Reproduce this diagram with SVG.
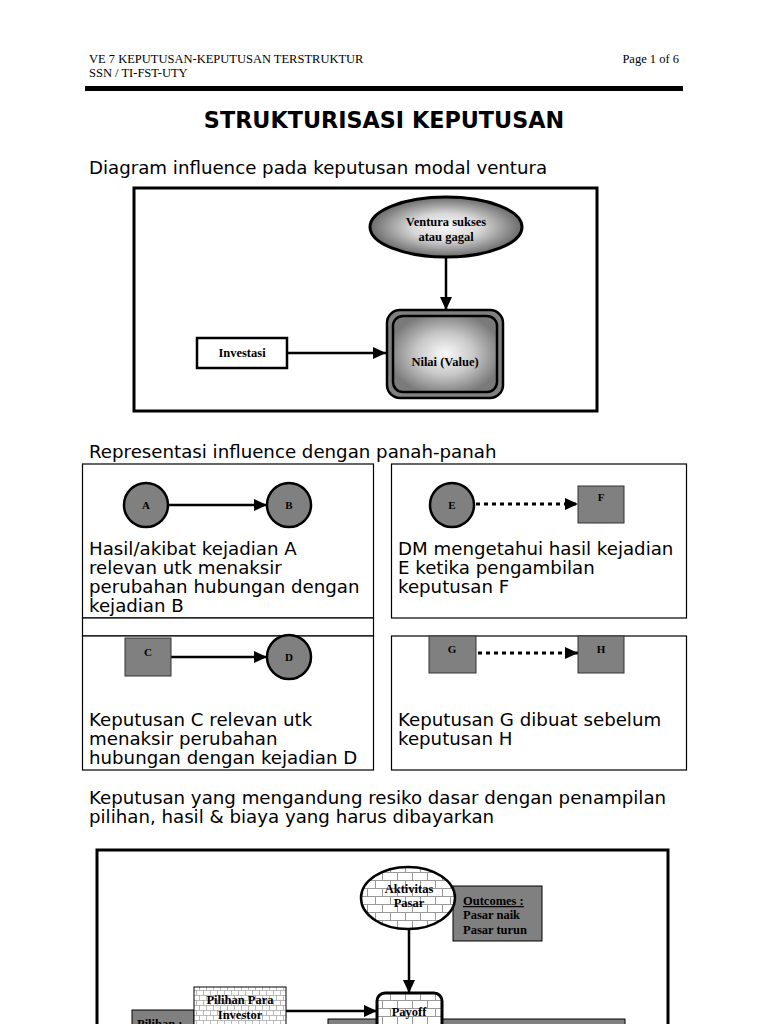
<svg xmlns="http://www.w3.org/2000/svg" width="768" height="1024" viewBox="0 0 768 1024">
<style>
.hdr{font-family:"Liberation Serif",serif;font-size:12.5px;fill:#000}
.title{font-family:"DejaVu Sans",sans-serif;font-weight:bold;font-size:22.3px;fill:#000}
.body{font-family:"DejaVu Sans",sans-serif;font-size:18.2px;fill:#000}
.lbl{font-family:"Liberation Serif",serif;font-weight:bold;font-size:12.5px;fill:#000}
.ltr{font-family:"Liberation Serif",serif;font-weight:bold;font-size:11px;fill:#000}
.panel{fill:#fff;stroke:#000;stroke-width:1.2}
.frame{fill:#fff;stroke:#000;stroke-width:3}
.circ{fill:#808080;stroke:#000;stroke-width:2.5}
.sq{fill:#808080;stroke:#333;stroke-width:1}
.solid{stroke:#000;stroke-width:2.5;fill:none}
.dot{stroke:#000;stroke-width:3;fill:none;stroke-dasharray:4 4}
</style>
<defs>
<marker id="ah" markerUnits="userSpaceOnUse" markerWidth="14" markerHeight="12" refX="13" refY="6" orient="auto">
<path d="M0,0 L13,6 L0,12 z" fill="#000"/>
</marker>
<radialGradient id="gEll" cx="50%" cy="50%" r="50%">
<stop offset="0" stop-color="#f8f8f8"/>
<stop offset="0.45" stop-color="#d8d8d8"/>
<stop offset="1" stop-color="#6a6a6a"/>
</radialGradient>
<radialGradient id="gBox" cx="50%" cy="50%" r="55%">
<stop offset="0" stop-color="#fafafa"/>
<stop offset="0.5" stop-color="#c8c8c8"/>
<stop offset="1" stop-color="#7a7a7a"/>
</radialGradient>
<pattern id="brick" patternUnits="userSpaceOnUse" width="30" height="16">
<rect width="30" height="16" fill="#fff"/>
<path d="M0,0.5 H30 M0,8.5 H30 M0.5,0 V8 M15.5,0 V8 M7.5,8 V16 M22.5,8 V16" stroke="#999" stroke-width="1" fill="none"/>
</pattern>
<pattern id="brick2" patternUnits="userSpaceOnUse" width="14" height="10">
<rect width="14" height="10" fill="#fff"/>
<path d="M0,0.5 H14 M0,5.5 H14 M0.5,0 V5 M7.5,0 V5 M3.5,5 V10 M10.5,5 V10" stroke="#aaa" stroke-width="0.8" fill="none"/>
</pattern>
</defs>
<rect width="768" height="1024" fill="#fff"/>

<g id="header">
<text class="hdr" x="89" y="63">VE 7 KEPUTUSAN-KEPUTUSAN TERSTRUKTUR</text>
<text class="hdr" x="89" y="77">SSN / TI-FST-UTY</text>
<text class="hdr" x="679" y="63" text-anchor="end">Page 1 of 6</text>
<rect x="85" y="86" width="598" height="5" fill="#000"/>
<text class="title" x="384" y="128" text-anchor="middle">STRUKTURISASI KEPUTUSAN</text>
<text class="body" x="89" y="174">Diagram influence pada keputusan modal ventura</text>
<text class="body" x="89" y="458">Representasi influence dengan panah-panah</text>
<text class="body" x="89" y="804">Keputusan yang mengandung resiko dasar dengan penampilan</text>
<text class="body" x="89" y="823">pilihan, hasil &amp; biaya yang harus dibayarkan</text>
</g>

<g id="frame1"><rect class="frame" x="134" y="188" width="463" height="223"/></g>
<g id="frame2"><rect class="frame" x="97" y="850" width="571" height="190"/></g>

<g id="panels">
<rect class="panel" x="82.5" y="464" width="291" height="154"/>
<rect class="panel" x="82.5" y="618" width="291" height="18"/>
<rect class="panel" x="82.5" y="636" width="291" height="134"/>
<rect class="panel" x="391.5" y="464" width="295" height="154"/>
<rect class="panel" x="391.5" y="636" width="295" height="134"/>
</g>

<g id="connectors">
<line class="solid" x1="446" y1="257" x2="446" y2="310" marker-end="url(#ah)"/>
<line class="solid" x1="287" y1="353" x2="386" y2="353" marker-end="url(#ah)"/>
<line class="solid" x1="168" y1="505" x2="267" y2="505" marker-end="url(#ah)"/>
<line class="dot" x1="476" y1="504" x2="578" y2="504" marker-end="url(#ah)"/>
<line class="solid" x1="170" y1="657" x2="267" y2="657" marker-end="url(#ah)"/>
<line class="dot" x1="478" y1="653" x2="578" y2="653" marker-end="url(#ah)"/>
<line class="solid" x1="409" y1="927" x2="409" y2="993" marker-end="url(#ah)"/>
<line class="solid" x1="286" y1="1011" x2="377" y2="1011" marker-end="url(#ah)"/>
</g>

<g id="ventura">
<ellipse cx="446" cy="227" rx="76" ry="30" fill="url(#gEll)" stroke="#000" stroke-width="3"/>
<text class="lbl" x="446" y="226" text-anchor="middle">Ventura sukses</text>
<text class="lbl" x="446" y="241" text-anchor="middle">atau gagal</text>
</g>
<g id="investasi">
<rect x="197" y="338" width="90" height="30" fill="#fff" stroke="#000" stroke-width="2.5"/>
<text class="lbl" x="242" y="357" text-anchor="middle">Investasi</text>
</g>
<g id="nilai">
<rect x="387" y="310" width="116" height="88" rx="13" fill="#808080" stroke="#000" stroke-width="2.5"/>
<rect x="393" y="316" width="104" height="76" rx="10" fill="url(#gBox)" stroke="#000" stroke-width="2.5"/>
<text class="lbl" x="445" y="366" text-anchor="middle">Nilai (Value)</text>
</g>

<g id="nodeA"><circle class="circ" cx="146" cy="505" r="22"/><text class="ltr" x="146" y="509" text-anchor="middle">A</text></g>
<g id="nodeB"><circle class="circ" cx="289" cy="505" r="22"/><text class="ltr" x="289" y="509" text-anchor="middle">B</text></g>
<g id="nodeE"><circle class="circ" cx="452" cy="505" r="22"/><text class="ltr" x="452" y="509" text-anchor="middle">E</text></g>
<g id="nodeF"><rect class="sq" x="578" y="486" width="46" height="37"/><text class="ltr" x="601" y="501" text-anchor="middle">F</text></g>
<g id="nodeC"><rect class="sq" x="125" y="638" width="46" height="38"/><text class="ltr" x="148" y="656" text-anchor="middle">C</text></g>
<g id="nodeD"><circle class="circ" cx="289" cy="657" r="22"/><text class="ltr" x="289" y="661" text-anchor="middle">D</text></g>
<g id="nodeG"><rect class="sq" x="429" y="636" width="47" height="37"/><text class="ltr" x="452" y="653" text-anchor="middle">G</text></g>
<g id="nodeH"><rect class="sq" x="578" y="636" width="46" height="37"/><text class="ltr" x="601" y="653" text-anchor="middle">H</text></g>

<g id="panelText">
<text class="body" x="89" y="555">Hasil/akibat kejadian A</text>
<text class="body" x="89" y="574">relevan utk menaksir</text>
<text class="body" x="89" y="593">perubahan hubungan dengan</text>
<text class="body" x="89" y="612">kejadian B</text>
<text class="body" x="398" y="555">DM mengetahui hasil kejadian</text>
<text class="body" x="398" y="574">E ketika pengambilan</text>
<text class="body" x="398" y="593">keputusan F</text>
<text class="body" x="89" y="726">Keputusan C relevan utk</text>
<text class="body" x="89" y="745">menaksir perubahan</text>
<text class="body" x="89" y="764">hubungan dengan kejadian D</text>
<text class="body" x="398" y="726">Keputusan G dibuat sebelum</text>
<text class="body" x="398" y="745">keputusan H</text>
</g>

<g id="outcomes">
<rect x="453" y="886" width="89" height="55" fill="#808080" stroke="#000" stroke-width="1"/>
<text class="lbl" x="463" y="905" text-decoration="underline">Outcomes :</text>
<text class="lbl" x="463" y="919">Pasar naik</text>
<text class="lbl" x="463" y="934">Pasar turun</text>
</g>
<g id="aktivitas">
<ellipse cx="408" cy="898" rx="47" ry="31" fill="url(#brick)" stroke="#000" stroke-width="2.5"/>
<text class="lbl" x="409" y="893" text-anchor="middle">Aktivitas</text>
<text class="lbl" x="409" y="907" text-anchor="middle">Pasar</text>
</g>
<g id="pilihanLabel">
<rect x="132" y="1010" width="62" height="20" fill="#808080" stroke="#000" stroke-width="1"/>
<text class="lbl" x="137" y="1028">Pilihan :</text>
</g>
<g id="pilihanInvestor">
<rect x="194" y="987" width="92" height="45" fill="url(#brick2)" stroke="#000" stroke-width="1"/>
<text class="lbl" x="240" y="1004" text-anchor="middle">Pilihan Para</text>
<text class="lbl" x="240" y="1019" text-anchor="middle">Investor</text>
</g>
<g id="grayBar">
<rect x="328" y="1019" width="297" height="12" fill="#808080" stroke="#000" stroke-width="1"/>
</g>
<g id="payoff">
<rect x="377" y="993" width="65" height="40" rx="8" fill="url(#brick)" stroke="#000" stroke-width="3"/>
<text class="lbl" x="409" y="1016" text-anchor="middle">Payoff</text>
</g>
</svg>
